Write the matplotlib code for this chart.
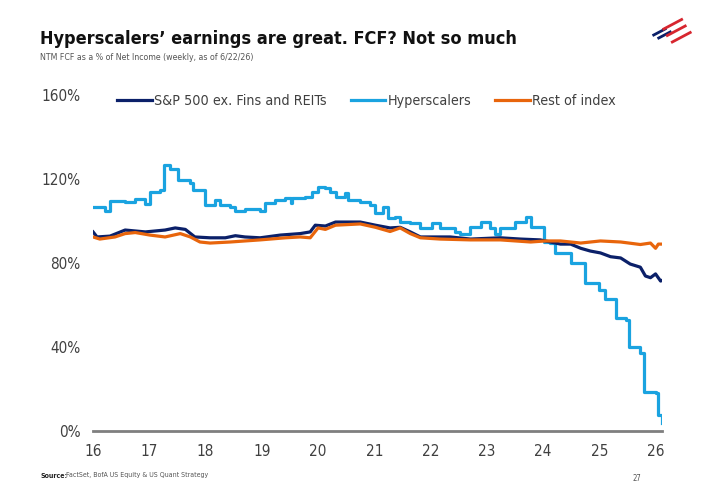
import matplotlib.pyplot as plt
import matplotlib.lines as mlines

plt.rcParams['font.family'] = ['DejaVu Sans']
plt.rcParams['font.stretch'] = 'condensed'

# Series (x = year, 16 = 2016; y = % of net income)
sp_x = [16.00, 16.07, 16.30, 16.57, 16.93, 17.28, 17.46, 17.64, 17.81, 18.08,
        18.35, 18.53, 18.70, 18.97, 19.33, 19.68, 19.86, 19.95, 20.13, 20.31,
        20.75, 21.02, 21.28, 21.46, 21.64, 21.82, 22.35, 22.71, 23.24, 23.60,
        23.95, 24.31, 24.49, 24.67, 24.84, 25.02, 25.20, 25.38, 25.55, 25.73,
        25.82, 25.91, 26.00, 26.09, 26.12]
sp_y = [94.8, 92.4, 92.8, 95.7, 94.8, 95.7, 96.7, 96.0, 92.4, 92.0,
        92.0, 93.0, 92.4, 92.0, 93.3, 94.0, 94.8, 98.0, 97.6, 99.5,
        99.5, 98.0, 96.7, 97.0, 94.8, 92.4, 92.4, 91.4, 92.0, 91.4,
        91.0, 89.0, 89.0, 87.0, 85.7, 84.8, 83.0, 82.4, 79.5, 78.0,
        73.8, 73.0, 74.8, 71.4, 71.8]

hyp_x = [16.00, 16.21, 16.30, 16.57, 16.75, 16.93, 17.01, 17.19, 17.26, 17.37,
         17.51, 17.73, 17.78, 17.90, 17.99, 18.17, 18.26, 18.44, 18.53, 18.70,
         18.97, 19.06, 19.24, 19.42, 19.51, 19.54, 19.77, 19.90, 20.00, 20.13,
         20.22, 20.31, 20.48, 20.54, 20.75, 20.93, 21.02, 21.16, 21.25, 21.37,
         21.46, 21.64, 21.82, 22.03, 22.17, 22.44, 22.53, 22.71, 22.89, 23.06,
         23.15, 23.24, 23.51, 23.69, 23.78, 23.95, 24.01, 24.13, 24.22, 24.49,
         24.67, 24.75, 24.99, 25.11, 25.29, 25.47, 25.52, 25.73, 25.79, 26.00,
         26.05, 26.12]
hyp_y = [106.7, 105.0, 109.5, 109.0, 110.5, 108.0, 114.0, 115.0, 126.5, 125.0,
         119.5, 118.0, 115.0, 115.0, 107.6, 110.0, 107.6, 106.7, 105.0, 105.5,
         105.0, 108.6, 110.0, 111.0, 108.6, 111.0, 111.4, 114.0, 116.0, 115.7,
         114.0, 111.4, 113.3, 110.0, 109.0, 107.6, 104.0, 106.7, 101.4, 102.0,
         99.5, 99.0, 96.7, 99.0, 96.7, 94.8, 94.0, 97.0, 99.5, 96.7,
         94.0, 96.7, 99.5, 102.0, 97.0, 97.0, 90.0, 89.5, 84.8, 80.0,
         80.0, 70.5, 67.0, 63.0, 54.0, 53.0, 40.0, 37.0, 18.6, 18.0,
         7.6, 3.8]

rest_x = [16.00, 16.12, 16.39, 16.57, 16.75, 17.01, 17.28, 17.55, 17.73, 17.90,
          18.08, 18.44, 18.70, 18.97, 19.42, 19.68, 19.86, 20.00, 20.13, 20.31,
          20.75, 21.02, 21.28, 21.46, 21.64, 21.82, 22.17, 22.71, 23.24, 23.78,
          24.04, 24.31, 24.67, 25.02, 25.38, 25.73, 25.91, 26.00, 26.05, 26.12]
rest_y = [92.4, 91.4, 92.4, 94.0, 94.5, 93.3, 92.4, 94.0, 92.4, 90.0,
          89.5, 90.0, 90.5, 91.0, 92.0, 92.4, 92.0, 96.7, 96.0, 98.0,
          98.6, 97.0, 95.0, 96.7, 94.0, 92.0, 91.4, 91.0, 91.0, 90.0,
          90.5, 90.5, 89.5, 90.5, 90.0, 88.8, 89.5, 87.0, 89.0, 89.0]

yticks = [0, 40, 80, 120, 160]
xticks = list(range(16, 27))

navy = '#0B2069'
blue = '#1AA3E0'
orange = '#E8650C'

fig = plt.figure(figsize=(7.16, 5.0), dpi=100)
ax = fig.add_axes([0.130, 0.138, 0.795, 0.672])

ax.plot(sp_x, sp_y, color=navy, lw=2.3, label='S&P 500 ex. Fins and REITs', zorder=3)
ax.plot(hyp_x, hyp_y, color=blue, lw=2.3, drawstyle='steps-post', label='Hyperscalers', zorder=2)
ax.plot(rest_x, rest_y, color=orange, lw=2.3, label='Rest of index', zorder=4)

ax.set_xlim(16, 26.12)
ax.set_ylim(0, 160)
ax.set_yticks(yticks)
ax.set_yticklabels([f'{v}%' for v in yticks])
ax.set_xticks(xticks)
ax.set_xticklabels([str(v) for v in xticks])
ax.tick_params(length=0, labelsize=11, colors='#404040', pad=9)
for s in ['top', 'right', 'left']:
    ax.spines[s].set_visible(False)
ax.spines['bottom'].set_color('#7f7f7f')
ax.spines['bottom'].set_linewidth(2)
ax.spines['bottom'].set_zorder(5)

handles, labels = ax.get_legend_handles_labels()
fig.legend(handles, labels, loc='center', bbox_to_anchor=(0.512, 0.798), ncol=3,
           frameon=False, fontsize=10.3, handlelength=2.4, handletextpad=0.15,
           columnspacing=1.7, labelcolor='#404040')

fig.text(0.056, 0.912, 'Hyperscalers\u2019 earnings are great. FCF? Not so much',
         fontsize=13, fontweight='bold', color='#111111', va='baseline')
fig.text(0.056, 0.880, 'NTM FCF as a % of Net Income (weekly, as of 6/22/26)',
         fontsize=6.3, color='#555555', va='baseline')
fig.text(0.056, 0.045, 'Source:', fontsize=5, fontweight='bold', color='#222222', va='baseline')
fig.text(0.092, 0.045, 'FactSet, BofA US Equity & US Quant Strategy', fontsize=5,
         color='#555555', va='baseline')
fig.text(0.884, 0.038, '27', fontsize=5.5, color='#555555', va='baseline')

# small flag logo, top right
for x0, y0 in [(0.913, 0.930), (0.920, 0.924)]:
    fig.add_artist(mlines.Line2D([x0, x0 + 0.016], [y0, y0 + 0.012], color=navy, lw=2.0,
                                 transform=fig.transFigure))
for x0, y0 in [(0.927, 0.942), (0.932, 0.929), (0.939, 0.916)]:
    fig.add_artist(mlines.Line2D([x0, x0 + 0.025], [y0, y0 + 0.019], color='#D7262F', lw=2.0,
                                 transform=fig.transFigure))

fig.savefig('out.png', dpi=100)
